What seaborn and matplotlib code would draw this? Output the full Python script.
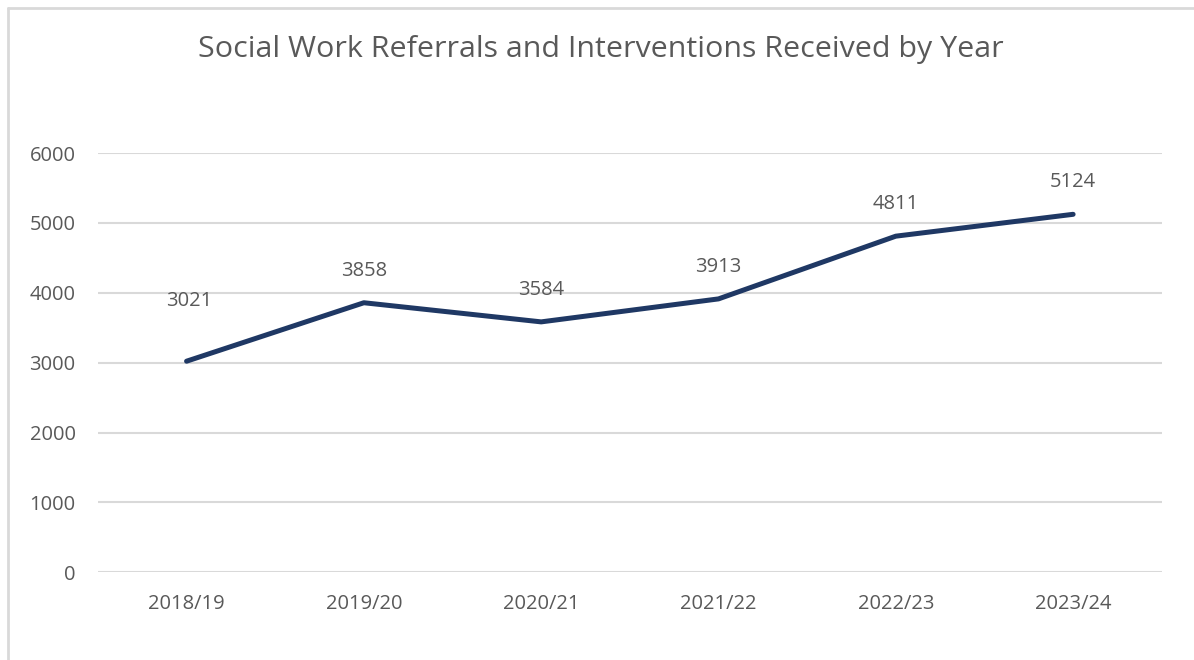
import matplotlib
matplotlib.use("Agg")
import matplotlib.pyplot as plt
import seaborn as sns
import pandas as pd
from matplotlib.lines import Line2D

# data
years = ["2018/19", "2019/20", "2020/21", "2021/22", "2022/23", "2023/24"]
referrals = [3021, 3858, 3584, 3913, 4811, 5124]
y_ticks = [0, 1000, 2000, 3000, 4000, 5000, 6000]

df = pd.DataFrame({"Year": years, "Referrals": referrals})

sns.set_theme(style="white")
plt.rcParams["font.family"] = ["Open Sans", "DejaVu Sans"]

text_col = "#595959"
line_col = "#1F3864"
grid_col = "#D9D9D9"

fig = plt.figure(figsize=(11.94, 6.6), dpi=100)
ax = fig.add_axes([0.082, 0.133, 0.891, 0.635])

# horizontal gridlines
for t in y_ticks:
    ax.axhline(t, color=grid_col, linewidth=1.5, zorder=0)

sns.lineplot(data=df, x="Year", y="Referrals", ax=ax, color=line_col,
             linewidth=3.6, sort=False, solid_capstyle="round")

# first label sits higher in the original
label_dy = [36, 16, 16, 16, 16, 16]
for i, v in enumerate(referrals):
    ax.annotate(str(v), (i, v), xytext=(2 if i == 0 else 0, label_dy[i]),
                textcoords="offset points", ha="center", va="bottom",
                fontsize=14.5, color=text_col)

ax.set_xlim(-0.5, len(years) - 0.5)
ax.set_ylim(0, 6000)
ax.set_yticks(y_ticks)
ax.set_xlabel("")
ax.set_ylabel("")
ax.tick_params(axis="both", length=0, labelsize=14.5, labelcolor=text_col)
ax.tick_params(axis="x", pad=16)
ax.tick_params(axis="y", pad=16)
for s in ax.spines.values():
    s.set_visible(False)

fig.text(0.503, 0.925, "Social Work Referrals and Interventions Received by Year",
         ha="center", va="center", fontsize=21.9, color=text_col)

# chart frame (only top and left edges visible)
fig.add_artist(Line2D([0.007, 1.0], [0.988, 0.988], transform=fig.transFigure,
                      color=grid_col, linewidth=2))
fig.add_artist(Line2D([0.007, 0.007], [0.0, 0.988], transform=fig.transFigure,
                      color=grid_col, linewidth=2))

fig.savefig("out.png", dpi=100, facecolor="white")
